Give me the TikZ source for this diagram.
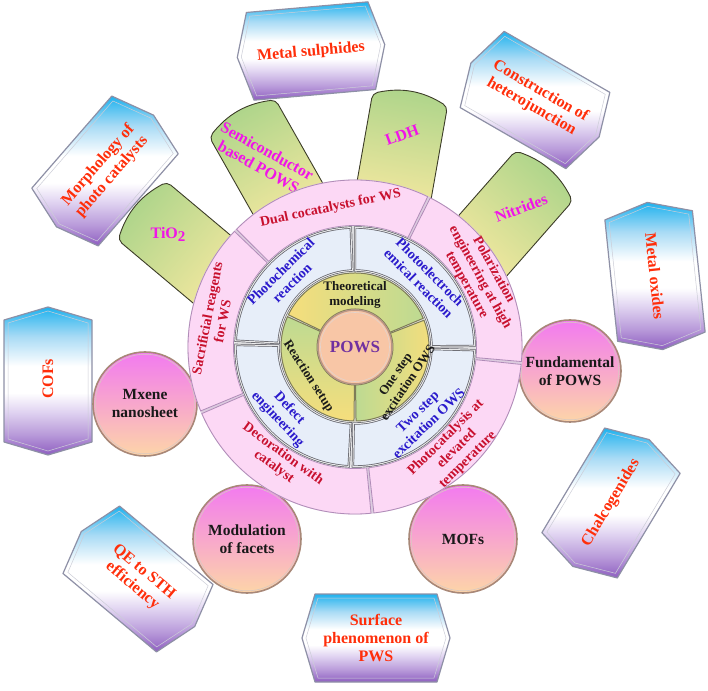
\documentclass[tikz,border=0pt]{standalone}
\usepackage{fontspec}
\setmainfont{Liberation Serif}
\definecolor{boxcyan}{HTML}{1FB2EE}
\definecolor{boxlight}{HTML}{A9DBF5}
\definecolor{boxpurple}{HTML}{8E5EC0}
\definecolor{boxmidpur}{HTML}{B99BDA}
\definecolor{boxlav}{HTML}{E2D6F2}
\definecolor{boxedge}{HTML}{8E90A6}
\definecolor{boxtxt}{HTML}{FF2E0A}
\definecolor{tabgreen}{HTML}{AFD58B}
\definecolor{tabyellow}{HTML}{FCEAA2}
\definecolor{tabedge}{HTML}{3C3C28}
\definecolor{tabtxt}{HTML}{F014E8}
\definecolor{circtop}{HTML}{F27AF0}
\definecolor{circmid}{HTML}{F8B8D4}
\definecolor{circbot}{HTML}{FDD5A8}
\definecolor{circedge}{HTML}{A88878}
\definecolor{ringpink}{HTML}{FCD8F5}
\definecolor{pinkedge}{HTML}{B08CB8}
\definecolor{pinktxt}{HTML}{C8102E}
\definecolor{ringblue}{HTML}{E7EEF9}
\definecolor{blueedge}{HTML}{5E5E66}
\definecolor{bluetxt}{HTML}{2A1ACC}
\definecolor{midyellow}{HTML}{F6DE7C}
\definecolor{midgreen}{HTML}{BDDA92}
\definecolor{midedge}{HTML}{7E7C58}
\definecolor{powsfill}{HTML}{F8C6A6}
\definecolor{powsedge}{HTML}{B89484}
\definecolor{powstxt}{HTML}{7030A0}

\pgfdeclareverticalshading{hexsh}{100bp}{color(0bp)=(boxpurple); color(25bp)=(boxpurple); color(32bp)=(boxmidpur); color(40bp)=(boxlav); color(46bp)=(white); color(55bp)=(white); color(65bp)=(boxlight); color(75bp)=(boxcyan); color(100bp)=(boxcyan)}

\tikzset{
  every node/.style={align=center, inner sep=0pt},
  boxlabel/.style={text=boxtxt, font=\fontsize{16}{18}\selectfont\bfseries},
  tablabel/.style={text=tabtxt, font=\fontsize{16}{18}\selectfont\bfseries},
  circlabel/.style={text=black!90, font=\fontsize{15.5}{18}\selectfont\bfseries},
  pinklabel/.style={text=pinktxt, font=\fontsize{14}{15.5}\selectfont\bfseries},
  bluelabel/.style={text=bluetxt, font=\fontsize{14}{16}\selectfont\bfseries},
  midlabel/.style={text=black!90, font=\fontsize{13}{15}\selectfont\bfseries},
  hexline/.style={draw=boxedge, line width=1.2pt, line join=round},
  hexinner/.style={draw=white!55!boxedge, line width=0.5pt},
  tabshape/.style={top color=tabgreen, bottom color=tabyellow, draw=tabedge, line width=0.9pt, rounded corners=5pt},
  bubble/.style={top color=circtop, middle color=circmid, bottom color=circbot, draw=circedge, line width=1.6pt},
  bubblerim/.style={draw=white!55!circedge, line width=0.6pt},
  pinkseg/.style={fill=ringpink, draw=pinkedge, line width=0.8pt},
  blueseg/.style={fill=ringblue, draw=blueedge, line width=0.7pt, double=white!85!blueedge, double distance=1pt},
  midseg/.style={draw=midedge, line width=1pt},
}

\newcommand\hexbox[3]{%
  \begin{scope}[shift={(#1,#2)}, rotate=#3]
    \shade[shading=hexsh] (-61,44) -- (61,44) -- (74,0) -- (61,-44) -- (-61,-44) -- (-74,0) -- cycle;
    \draw[hexline] (-61,44) -- (61,44) -- (74,0) -- (61,-44) -- (-61,-44) -- (-74,0) -- cycle;
    \draw[hexinner] (-58,40) -- (58,40) -- (70,0) -- (58,-40) -- (-58,-40) -- (-70,0) -- cycle;
  \end{scope}}

\newcommand\tabbar[4]{%
  \begin{scope}[shift={(#1,#2)}, rotate=#3]
    \path[tabshape, shading angle=#4] (-118,-38) -- (0,-38) to[bend right=22] (0,38) -- (-118,38) -- cycle;
  \end{scope}}

\newcommand\bubbleat[3]{%
  \path[bubble] (#1,#2) circle[radius=#3];
  \draw[bubblerim] (#1,#2) circle[radius=#3-2.2];}

\newcommand\ringseg[5]{%
  \path[#5] ([shift={(#1:#3)}]C) arc[start angle=#1, end angle=#2, radius=#3] -- ([shift={(#2:#4)}]C) arc[start angle=#2, end angle=#1, radius=#4] -- cycle;}

\begin{document}
\begin{tikzpicture}[x=1pt,y=1pt]
\useasboundingbox (0,0) rectangle (708,690);
\coordinate (C) at (355,343);

% tabs behind the ring
\tabbar{142.5}{479}{140}{50}
\tabbar{242.5}{571.5}{119.5}{29.5}
\tabbar{410}{590}{80}{-10}
\tabbar{544}{514}{48.7}{-41.3}
\node[tablabel] (tio2) at (168,456) {TiO\raisebox{-0.4ex}{\fontsize{15}{15}\selectfont 2}};
\node[tablabel, rotate=-29] (semi) at (263,531) {Semiconductor\\based POWS};
\node[tablabel, rotate=20] (ldh) at (402,555) {LDH};
\node[tablabel, rotate=21] (nitr) at (521,482) {Nitrides};

% outer boxes
\hexbox{311}{639}{5}
\node[boxlabel, rotate=5] (msul) at (311,638) {Metal sulphides};
\hexbox{535}{590}{-30}
\node[boxlabel, rotate=-30] (hetero) at (536,591) {Construction of\\heterojunction};
\hexbox{105}{519}{49}
\node[boxlabel, rotate=49] (morph) at (105,519) {Morphology of\\photo catalysts};
\hexbox{48}{309}{90}
\node[boxlabel, rotate=90] (cofs) at (48,311) {COFs};
\hexbox{655}{414}{-84}
\node[boxlabel, rotate=-84] (moxi) at (655,414) {Metal oxides};
\hexbox{611}{187}{59}
\node[boxlabel, rotate=59] (chalc) at (611,187) {Chalcogenides};
\hexbox{138}{111}{-40}
\node[boxlabel, rotate=-40] (qe) at (138,111) {QE to STH\\efficiency};
\hexbox{376}{52}{0}
\node[boxlabel] (surf) at (376,52) {Surface\\phenomenon of\\PWS};

% bubbles
\bubbleat{570}{319}{51}
\node[circlabel] (fund) at (570,319) {Fundamental\\of POWS};
\bubbleat{463}{151}{54}
\node[circlabel] (mofs) at (463,151) {MOFs};
\bubbleat{247}{151}{54}
\node[circlabel] (modf) at (247,151) {Modulation\\of facets};
\bubbleat{145}{286}{52}
\node[circlabel] (mxene) at (145,286) {Mxene\\nanosheet};

% pink ring
\fill[pinkedge!45!white] (C) circle[radius=167.5];
\ringseg{64.2}{135.2}{121.5}{167}{pinkseg}
\ringseg{136.2}{202.5}{121.5}{167}{pinkseg}
\ringseg{203.5}{275.5}{121.5}{167}{pinkseg}
\ringseg{276.5}{354}{121.5}{167}{pinkseg}
\ringseg{355}{423.2}{121.5}{167}{pinkseg}

% blue ring
\fill[white!90!blueedge] (C) circle[radius=121];
\ringseg{92}{177}{76.5}{119.5}{blueseg}
\ringseg{179}{267}{76.5}{119.5}{blueseg}
\ringseg{269}{358.5}{76.5}{119.5}{blueseg}
\ringseg{360.5}{450}{76.5}{119.5}{blueseg}

% middle ring
\fill[white!80!midedge] (C) circle[radius=75];
\ringseg{22.8}{154.2}{38}{74}{midseg, left color=midyellow, right color=midgreen}
\ringseg{155.8}{269.2}{38}{74}{midseg, top color=midgreen, bottom color=midyellow}
\ringseg{270.8}{381.2}{38}{74}{midseg, left color=midgreen, right color=midyellow}

% centre
\path[fill=powsfill, draw=powsedge, line width=1.5pt] (C) circle[radius=37];
\draw[white!60!powsedge, line width=0.6pt] (C) circle[radius=34.5];
\node[text=powstxt, font=\fontsize{17}{17}\selectfont\bfseries] (pows) at (C) {POWS};

% pink ring labels
\node[pinklabel, rotate=12] (dual) at ([shift={(100:141)}]C) {Dual cocatalysts for WS};
\node[pinklabel, rotate=79] (sacr) at ([shift={(169:143)}]C) {Sacrificial reagents\\for WS};
\node[pinklabel, rotate=-36] (deco) at ([shift={(236:137)}]C) {Decoration with\\catalyst};
\node[pinklabel, rotate=45] (pcat) at ([shift={(-45:144)}]C) {Photocatalysis at\\elevated\\temperature};
\node[pinklabel, rotate=-61] (polar) at ([shift={(29:143)}]C) {Polarization\\engineering at high\\temperature};

% blue ring labels
\node[bluelabel, rotate=44.5] (pchem) at ([shift={(134.5:98)}]C) {Photochemical\\reaction};
\node[bluelabel, rotate=-45] (pelec) at ([shift={(45:98)}]C) {Photoelectroch\\emical reaction};
\node[bluelabel, rotate=-47] (defect) at ([shift={(223:98)}]C) {Defect\\engineering};
\node[bluelabel, rotate=44] (twostep) at ([shift={(314:98)}]C) {Two step\\excitation OWS};

% middle ring labels
\node[midlabel] (theo) at ([shift={(90:52)}]C) {Theoretical\\modeling};
\node[midlabel, rotate=-57] (rset) at ([shift={(212:55)}]C) {Reaction setup};
\node[midlabel, rotate=56] (onestep) at ([shift={(326:56)}]C) {One step\\excitation OWS};
\end{tikzpicture}
\end{document}
